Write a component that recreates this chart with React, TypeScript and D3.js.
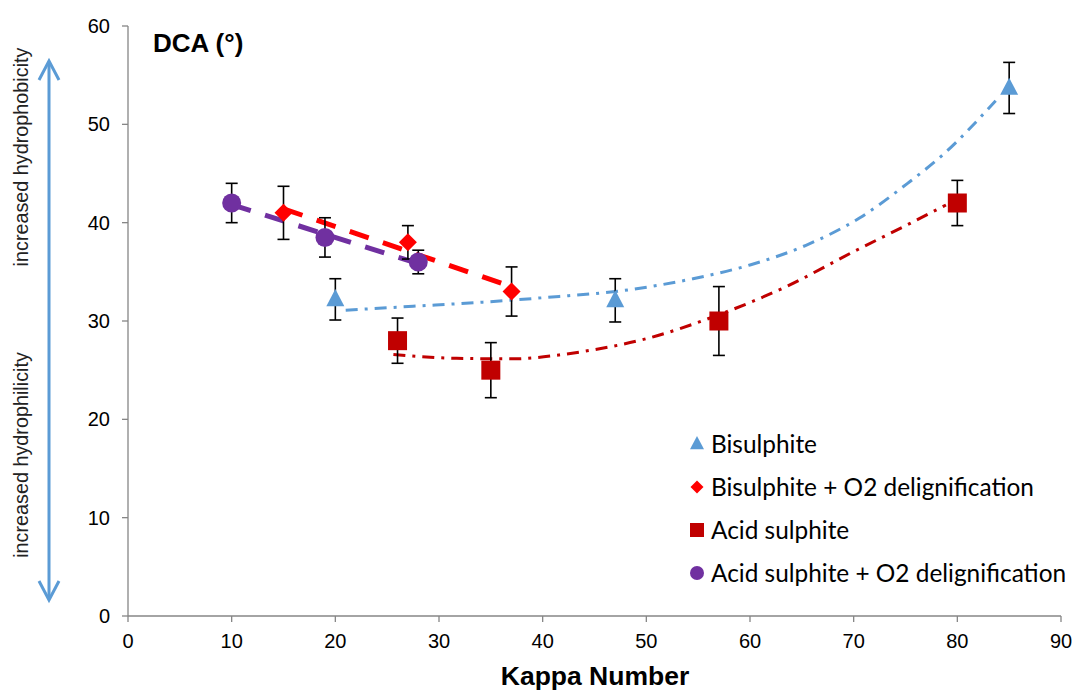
import React from "react";
import * as d3 from "d3";

type Pt = { x: number; y: number; e: number };

// Data
const bisulphite: Pt[] = [
  { x: 20, y: 32.2, e: 2.1 },
  { x: 47, y: 32.1, e: 2.2 },
  { x: 85, y: 53.7, e: 2.6 },
];
const bisulphiteO2: Pt[] = [
  { x: 15, y: 41, e: 2.7 },
  { x: 27, y: 38, e: 1.7 },
  { x: 37, y: 33, e: 2.5 },
];
const acidSulphite: Pt[] = [
  { x: 26, y: 28, e: 2.3 },
  { x: 35, y: 25, e: 2.8 },
  { x: 57, y: 30, e: 3.5 },
  { x: 80, y: 42, e: 2.3 },
];
const acidSulphiteO2: Pt[] = [
  { x: 10, y: 42, e: 2.0 },
  { x: 19, y: 38.5, e: 2.0 },
  { x: 28, y: 36, e: 1.2 },
];

// Trend curves (polynomial trendlines)
const bisulphiteTrend: [number, number][] = [
  [21, 31.1], [27.5, 31.5], [34, 31.9], [41.6, 32.5], [47, 33.0], [54.5, 34.3],
  [60, 35.7], [65.4, 37.7], [70.6, 40.5], [75.2, 44.0], [78.6, 46.9], [83.7, 52.4],
];
const acidTrend: [number, number][] = [
  [25.6, 26.6], [31.7, 26.2], [37.1, 26.15], [41.6, 26.55], [43.9, 26.9], [50, 28.2],
  [56.9, 30.6], [63.5, 33.5], [69.9, 37.0], [75.2, 39.8], [78.9, 41.8],
];

const xTicks = [0, 10, 20, 30, 40, 50, 60, 70, 80, 90];
const yTicks = [0, 10, 20, 30, 40, 50, 60];

const legendLabels = [
  "Bisulphite",
  "Bisulphite + O2 delignification",
  "Acid sulphite",
  "Acid sulphite + O2 delignification",
];

const BLUE = "#5B9BD5";
const RED = "#FF0000";
const DARKRED = "#C00000";
const PURPLE = "#7030A0";
const AXIS = "#868686";

const W = 1074;
const H = 690;

function linFit(pts: Pt[]): (x: number) => number {
  const mx = d3.mean(pts, (p) => p.x)!;
  const my = d3.mean(pts, (p) => p.y)!;
  let sxy = 0, sxx = 0;
  pts.forEach((p) => { sxy += (p.x - mx) * (p.y - my); sxx += (p.x - mx) ** 2; });
  const b = sxy / sxx;
  const a = my - b * mx;
  return (x) => a + b * x;
}

function Marker({ kind, cx, cy, s }: { kind: string; cx: number; cy: number; s: number }) {
  if (kind === "tri") {
    const h = s * 0.95;
    return <path d={`M${cx},${cy - h * 0.6} L${cx + s / 2},${cy + h * 0.4} L${cx - s / 2},${cy + h * 0.4} Z`} fill={BLUE} />;
  }
  if (kind === "dia") {
    const r = s / 2;
    return <path d={`M${cx},${cy - r} L${cx + r},${cy} L${cx},${cy + r} L${cx - r},${cy} Z`} fill={RED} />;
  }
  if (kind === "sq") {
    return <rect x={cx - s / 2} y={cy - s / 2} width={s} height={s} fill={DARKRED} />;
  }
  return <circle cx={cx} cy={cy} r={s / 2} fill={PURPLE} />;
}

export default function App() {
  const x = d3.scaleLinear().domain([0, 90]).range([128, 1061]);
  const y = d3.scaleLinear().domain([0, 60]).range([616, 26]);

  const curve = d3.line<[number, number]>().x((d) => x(d[0])).y((d) => y(d[1])).curve(d3.curveMonotoneX);

  const f1 = linFit(bisulphiteO2);
  const f2 = linFit(acidSulphiteO2);
  const x1 = d3.extent(bisulphiteO2, (d) => d.x) as [number, number];
  const x2 = d3.extent(acidSulphiteO2, (d) => d.x) as [number, number];

  const series = [
    { data: bisulphite, kind: "tri", size: 18 },
    { data: bisulphiteO2, kind: "dia", size: 18 },
    { data: acidSulphite, kind: "sq", size: 19 },
    { data: acidSulphiteO2, kind: "circ", size: 19 },
  ];
  const legendKinds = ["tri", "dia", "sq", "circ"];
  const legendSizes = [14, 13, 14, 14];

  const font = "Liberation Sans, Arial, sans-serif";

  return (
    <svg width={W} height={H} style={{ position: "absolute", left: 0, top: 0 }}>
      <rect width={W} height={H} fill="#fff" />
      {/* axes */}
      <line x1={x(0)} x2={x(0)} y1={y(0)} y2={y(60)} stroke={AXIS} strokeWidth={1.3} />
      <line x1={x(0)} x2={x(90)} y1={y(0)} y2={y(0)} stroke={AXIS} strokeWidth={1.3} />
      {yTicks.map((t) => (
        <g key={"y" + t}>
          <line x1={x(0) - 6} x2={x(0)} y1={y(t)} y2={y(t)} stroke={AXIS} strokeWidth={1.3} />
          <text x={110} y={y(t)} dy="0.35em" textAnchor="end" fontFamily={font} fontSize={20} fill="#000">{t}</text>
        </g>
      ))}
      {xTicks.map((t) => (
        <g key={"x" + t}>
          <line x1={x(t)} x2={x(t)} y1={y(0)} y2={y(0) + 6} stroke={AXIS} strokeWidth={1.3} />
          <text x={x(t)} y={641} dy="0.35em" textAnchor="middle" fontFamily={font} fontSize={20} fill="#000">{t}</text>
        </g>
      ))}
      <text x={595} y={676} dy="0.35em" textAnchor="middle" fontFamily={font} fontSize={26.5} fontWeight="bold">Kappa Number</text>
      <text x={153} y={43} dy="0.35em" fontFamily={font} fontSize={26} fontWeight="bold">DCA (°)</text>

      {/* side arrow */}
      <line x1={49} x2={49} y1={62} y2={599} stroke={BLUE} strokeWidth={3} />
      <path d="M39,80 L49,61 L59,80" fill="none" stroke={BLUE} strokeWidth={3} />
      <path d="M39,581 L49,600 L59,581" fill="none" stroke={BLUE} strokeWidth={3} />
      <text transform="translate(21,157) rotate(-90)" dy="0.35em" textAnchor="middle" fontFamily={font} fontSize={19.8} fill="#222">increased hydrophobicity</text>
      <text transform="translate(21,455) rotate(-90)" dy="0.35em" textAnchor="middle" fontFamily={font} fontSize={19.8} fill="#222">increased hydrophilicity</text>

      {/* trendlines */}
      <path d={curve(bisulphiteTrend) || ""} fill="none" stroke={BLUE} strokeWidth={3} strokeDasharray="12 7 3 7" />
      <path d={curve(acidTrend) || ""} fill="none" stroke={DARKRED} strokeWidth={3} strokeDasharray="12 7 3 7" />
      <line x1={x(x2[0])} y1={y(f2(x2[0]))} x2={x(x2[1])} y2={y(f2(x2[1]))} stroke={PURPLE} strokeWidth={5} strokeDasharray="20 15" />
      <line x1={x(x1[0])} y1={y(f1(x1[0]))} x2={x(x1[1])} y2={y(f1(x1[1]))} stroke={RED} strokeWidth={5} strokeDasharray="20 15" />

      {/* error bars */}
      {series.map((s, i) =>
        s.data.map((d, j) => (
          <g key={`e${i}-${j}`} stroke="#000" strokeWidth={1.6}>
            <line x1={x(d.x)} x2={x(d.x)} y1={y(d.y - d.e)} y2={y(d.y + d.e)} />
            <line x1={x(d.x) - 6} x2={x(d.x) + 6} y1={y(d.y + d.e)} y2={y(d.y + d.e)} />
            <line x1={x(d.x) - 6} x2={x(d.x) + 6} y1={y(d.y - d.e)} y2={y(d.y - d.e)} />
          </g>
        ))
      )}
      {/* markers */}
      {series.map((s, i) =>
        s.data.map((d, j) => <Marker key={`m${i}-${j}`} kind={s.kind} cx={x(d.x)} cy={y(d.y)} s={s.size} />)
      )}

      {/* legend */}
      {legendLabels.map((l, i) => (
        <g key={"l" + i}>
          <Marker kind={legendKinds[i]} cx={697} cy={444 + i * 43} s={legendSizes[i]} />
          <text x={711} y={444 + i * 43} dy="0.35em" fontFamily="Lato, Carlito, Calibri, sans-serif" fontSize={24.4} fill="#000">{l}</text>
        </g>
      ))}
    </svg>
  );
}
